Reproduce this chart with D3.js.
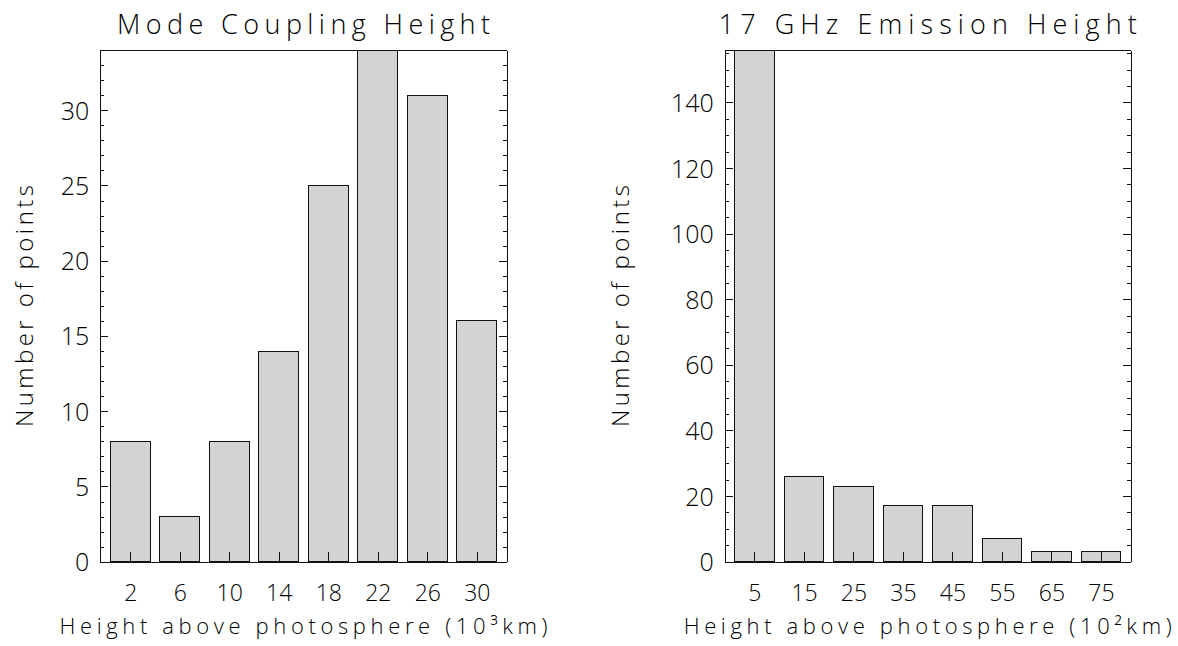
<!DOCTYPE html>
<html lang="en">
<head>
  <meta charset="UTF-8">
  <title>Mode Coupling / 17 GHz Emission Height</title>
  <style>
    * { margin: 0; box-sizing: border-box; }
    body { background: #fff; }
    svg { display: block; }
    text { font-family: "Open Sans", "DejaVu Sans", sans-serif; font-weight: 300; fill: #000; }
    .axis path, .axis line { stroke: #111; shape-rendering: crispEdges; }
  </style>
</head>
<body>
  <svg></svg>
  <script src="https://d3js.org/d3.v7.min.js"></script>
  <script>
    // mode coupling height histogram (10^3 km bins)
    const mcBins = [2, 6, 10, 14, 18, 22, 26, 30];
    const mcCounts = [8, 3, 8, 14, 25, 34, 31, 16];
    const mcYTicks = [0, 5, 10, 15, 20, 25, 30];

    // 17 GHz emission height histogram (10^2 km bins)
    const ghzBins = [5, 15, 25, 35, 45, 55, 65, 75];
    const ghzCounts = [156, 26, 23, 17, 17, 7, 3, 3];
    const ghzYTicks = [0, 20, 40, 60, 80, 100, 120, 140];

    const titles = ['Mode Coupling Height', '17 GHz Emission Height'];
    const xLabels = ['Height above photosphere (10\u00b3km)', 'Height above photosphere (10\u00b2km)'];
    const yLabel = 'Number of points';

    const width = 1178;
    const height = 646;
    const plotTop = 50, plotBottom = 561.7;

    const svg = d3.select('svg')
      .attr('width', width)
      .attr('height', height);

    function drawPanel(p) {
      const w = p.right - p.left;
      const h = plotBottom - plotTop;
      const g = svg.append('g').attr('transform', 'translate(' + p.left + ',' + plotTop + ')');

      const x = d3.scaleLinear().domain(p.xDomain).range([0, w]);
      const y = d3.scaleLinear().domain([0, p.yMax]).range([h, 0]);

      g.selectAll('rect.bar')
        .data(p.bins.map((b, i) => ({ bin: b, count: p.counts[i] })))
        .enter()
        .append('rect')
        .attr('class', 'bar')
        .attr('x', d => x(d.bin - p.barWidth / 2))
        .attr('y', d => y(d.count))
        .attr('width', x(p.barWidth) - x(0))
        .attr('height', d => h - y(d.count))
        .attr('fill', '#d3d3d3')
        .attr('stroke', '#111')
        .attr('stroke-width', 1)
        .attr('shape-rendering', 'crispEdges');

      const minor = d3.range(0, p.yMax + 1e-9, p.minorStep);

      // left axis, ticks pointing in
      g.append('g').attr('class', 'axis')
        .call(d3.axisLeft(y).tickValues(minor).tickSize(-4).tickSizeOuter(0).tickFormat(''));
      const yAx = g.append('g').attr('class', 'axis')
        .call(d3.axisLeft(y).tickValues(p.yTicks).tickSize(-8).tickSizeOuter(0).tickPadding(11));
      yAx.attr('font-family', null).attr('font-size', null);
      yAx.selectAll('text').style('font-size', '25px').attr('dy', '0.36em');

      // right axis
      g.append('g').attr('class', 'axis').attr('transform', 'translate(' + w + ',0)')
        .call(d3.axisRight(y).tickValues(minor).tickSize(-4).tickSizeOuter(0).tickFormat(''));
      g.append('g').attr('class', 'axis').attr('transform', 'translate(' + w + ',0)')
        .call(d3.axisRight(y).tickValues(p.yTicks).tickSize(-8).tickSizeOuter(0).tickFormat(''));

      // top border
      g.append('g').attr('class', 'axis')
        .call(d3.axisTop(x).tickValues([]).tickSizeOuter(0));

      // bottom axis, ticks at bin centres
      const xAx = g.append('g').attr('class', 'axis').attr('transform', 'translate(0,' + h + ')')
        .call(d3.axisBottom(x).tickValues(p.bins).tickSize(-10).tickSizeOuter(0));
      xAx.attr('font-family', null).attr('font-size', null);
      xAx.selectAll('text').style('font-size', '23px').attr('y', 39).attr('dy', null);

      const cx = w / 2;
      g.append('text')
        .attr('x', cx)
        .attr('y', 34 - plotTop)
        .attr('text-anchor', 'middle')
        .attr('textLength', p.titleLen)
        .attr('lengthAdjust', 'spacing')
        .style('font-size', '27px')
        .text(p.title);

      g.append('text')
        .attr('x', cx)
        .attr('y', 634 - plotTop)
        .attr('text-anchor', 'middle')
        .attr('textLength', 488)
        .attr('lengthAdjust', 'spacing')
        .style('font-size', '22px')
        .text(p.xLabel);

      g.append('text')
        .attr('transform', 'translate(' + (p.yLabelX - p.left) + ',' + (306 - plotTop) + ') rotate(-90)')
        .attr('text-anchor', 'middle')
        .attr('textLength', 242)
        .attr('lengthAdjust', 'spacing')
        .style('font-size', '24px')
        .text(yLabel);
    }

    drawPanel({
      left: 100.3, right: 506.7,
      xDomain: [-0.42, 32.42], barWidth: 3.2,
      bins: mcBins, counts: mcCounts,
      yMax: 34, yTicks: mcYTicks, minorStep: 1,
      title: titles[0], titleLen: 373,
      xLabel: xLabels[0], yLabelX: 33
    });

    drawPanel({
      left: 724.7, right: 1130.7,
      xDomain: [-1, 81], barWidth: 8,
      bins: ghzBins, counts: ghzCounts,
      yMax: 156, yTicks: ghzYTicks, minorStep: 5,
      title: titles[1], titleLen: 418,
      xLabel: xLabels[1], yLabelX: 629
    });
  </script>
</body>
</html>
